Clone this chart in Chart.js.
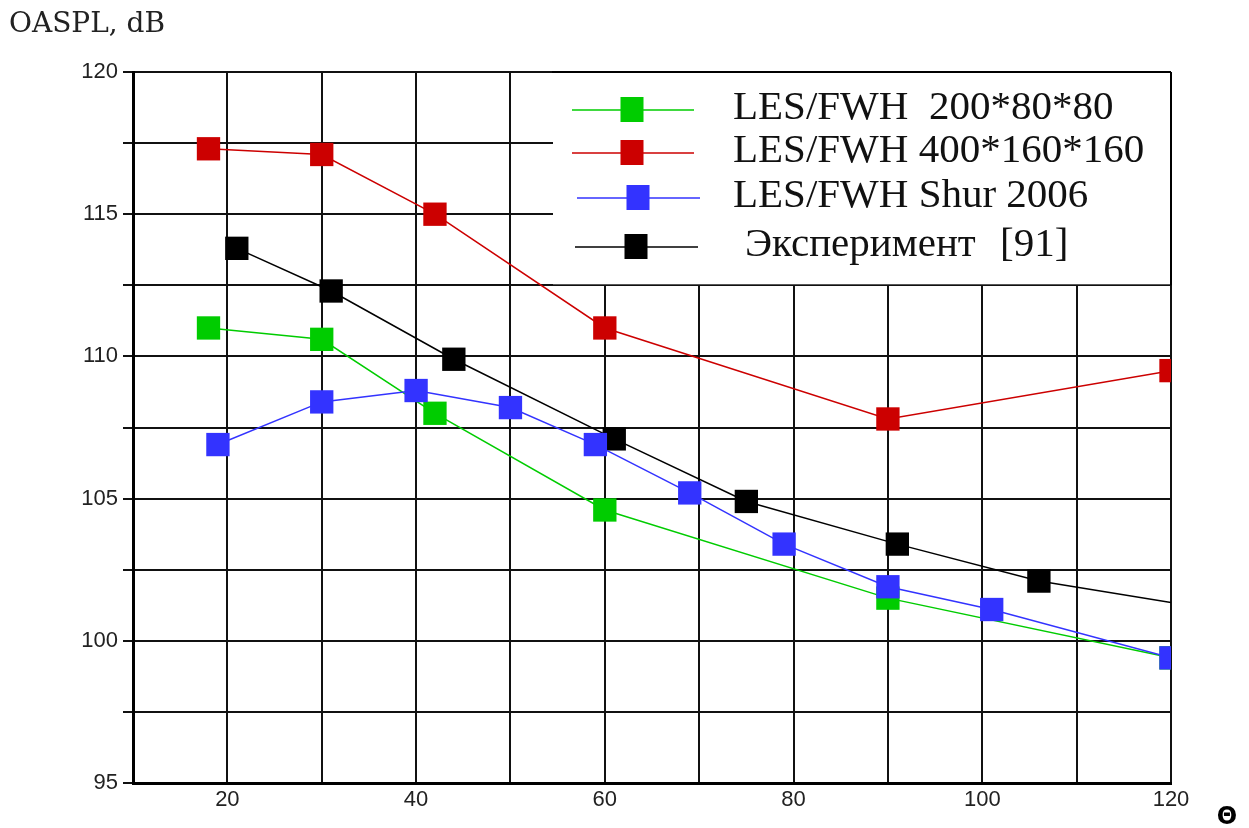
<!DOCTYPE html>
<html>
<head>
<meta charset="utf-8">
<script src="https://cdn.jsdelivr.net/npm/chart.js@4.4.1/dist/chart.umd.min.js"></script>
<style>
html,body{margin:0;padding:0;background:#fff;}
#wrap{width:1249px;height:828px;position:relative;}
</style>
</head>
<body>
<div id="wrap"><canvas id="c" width="1249" height="828"></canvas></div>
<script>
// ---- data ----
const greenX = [18, 30, 42, 60, 90, 120];
const greenY = [111.0, 110.6, 108.0, 104.6, 101.5, 99.4];
const redX = [18, 30, 42, 60, 90, 120];
const redY = [117.3, 117.1, 115.0, 111.0, 107.8, 109.5];
const blueX = [19, 30, 40, 50, 59, 69, 79, 90, 101, 120];
const blueY = [106.9, 108.4, 108.8, 108.2, 106.9, 105.2, 103.4, 101.9, 101.1, 99.4];
const blackX = [21, 31, 44, 61, 75, 91, 106, 120];
const blackY = [113.8, 112.3, 109.9, 107.1, 104.9, 103.4, 102.1, 101.35];
const blackMarked = [true, true, true, true, true, true, true, false];
const seriesNames = ["LES/FWH  200*80*80", "LES/FWH 400*160*160", "LES/FWH Shur 2006", "Эксперимент", "[91]"];
const yTitle = "OASPL, dB";
const xTitle = "\u0398";

function pts(xs, ys){ return xs.map((x,i)=>({x:x, y:ys[i]})); }

const GREEN = '#00cc00', RED = '#cc0000', BLUE = '#3333ff', BLACK = '#000000';
const R = 16.5; // rect radius -> side ~23px

function ds(label, xs, ys, color, order, radii){
  return {
    label: label, data: pts(xs, ys), borderColor: color, backgroundColor: color,
    borderWidth: 1.5, pointStyle: 'rect', pointRadius: radii || R, pointHoverRadius: radii || R,
    pointBorderWidth: 0, tension: 0, order: order, fill: false
  };
}

const decor = {
  id: 'decor',
  beforeDraw(chart){
    const ctx = chart.ctx;
    ctx.save(); ctx.fillStyle = '#fff'; ctx.fillRect(0,0,chart.width,chart.height); ctx.restore();
  },
  beforeDatasetsDraw(chart){
    const ctx = chart.ctx, a = chart.chartArea;
    const y = chart.scales.y;
    const left = 553, top = a.top, bottom = y.getPixelForValue(112.5);
    ctx.save();
    ctx.fillStyle = '#fff';
    ctx.fillRect(left, top + 1, a.right - 1 - left, bottom - 1 - top - 1);
    ctx.strokeStyle = '#000'; ctx.lineWidth = 2;
    ctx.beginPath(); ctx.moveTo(left - 1, top); ctx.lineTo(a.right, top); ctx.moveTo(a.right, top); ctx.lineTo(a.right, bottom); ctx.stroke();
    ctx.restore();
  },
  afterDraw(chart){
    const ctx = chart.ctx;
    ctx.save();
    // legend
    const rows = [
      {c: GREEN, y: 110, x1: 572, x2: 694, mx: 632, tx: 733, t: seriesNames[0]},
      {c: RED,   y: 153, x1: 572, x2: 694, mx: 632, tx: 733, t: seriesNames[1]},
      {c: BLUE,  y: 198, x1: 577, x2: 700, mx: 638, tx: 733, t: seriesNames[2]},
      {c: BLACK, y: 247, x1: 575, x2: 698, mx: 636, tx: 745, t: seriesNames[3]}
    ];
    ctx.font = '41px "Liberation Serif", "Times New Roman", serif';
    ctx.textBaseline = 'alphabetic'; ctx.textAlign = 'left';
    rows.forEach(r => {
      ctx.strokeStyle = r.c; ctx.lineWidth = 1.5;
      ctx.beginPath(); ctx.moveTo(r.x1, r.y); ctx.lineTo(r.x2, r.y); ctx.stroke();
      ctx.fillStyle = r.c; ctx.fillRect(r.mx - 11.5, r.y - 13, 23, 25);
      ctx.fillStyle = '#111';
      ctx.fillText(r.t, r.tx, r.y + 9);
    });
    ctx.fillText(seriesNames[4], 1000, 256);
    // y title
    ctx.fillStyle = '#222';
    ctx.font = '28px "DejaVu Serif", serif';
    ctx.fillText(yTitle, 9, 32);
    // x symbol
    ctx.font = 'bold 24px "DejaVu Sans", sans-serif';
    ctx.textAlign = 'center';
    ctx.fillStyle = '#000';
    ctx.fillText(xTitle, 1227, 824);
    ctx.restore();
  }
};

const tickFont = {family: '"Liberation Sans", Arial, sans-serif', size: 22};

new Chart(document.getElementById('c'), {
  type: 'line',
  data: {
    datasets: [
      ds(seriesNames[0], greenX, greenY, GREEN, 3),
      ds(seriesNames[1], redX, redY, RED, 2),
      ds(seriesNames[2], blueX, blueY, BLUE, 0),
      ds(seriesNames[3], blackX, blackY, BLACK, 1, blackMarked.map(m => m ? R : 0))
    ]
  },
  options: {
    responsive: false, animation: false, devicePixelRatio: 1,
    layout: {padding: {top: 72, right: 78, left: 0, bottom: 0}},
    plugins: {legend: {display: false}, tooltip: {enabled: false}, title: {display: false}},
    scales: {
      x: {
        type: 'linear', min: 10, max: 120,
        ticks: {stepSize: 10, autoSkip: false, maxRotation: 0, color: '#222', font: tickFont, padding: 4,
          callback: v => (v % 20 === 0 ? String(v) : '')},
        grid: {color: '#111', lineWidth: 2, drawTicks: false, tickLength: 0},
        border: {display: true, color: '#000', width: 3},
        afterFit: s => { s.height = 45; }
      },
      y: {
        min: 95, max: 120,
        ticks: {stepSize: 2.5, autoSkip: false, color: '#222', font: tickFont, padding: 5,
          callback: v => (v % 5 === 0 ? String(v) : '')},
        grid: {color: '#111', lineWidth: 2, drawTicks: true, tickLength: 10},
        border: {display: true, color: '#000', width: 3},
        afterFit: s => { s.width = 133; }
      }
    }
  },
  plugins: [decor]
});
</script>
</body>
</html>
